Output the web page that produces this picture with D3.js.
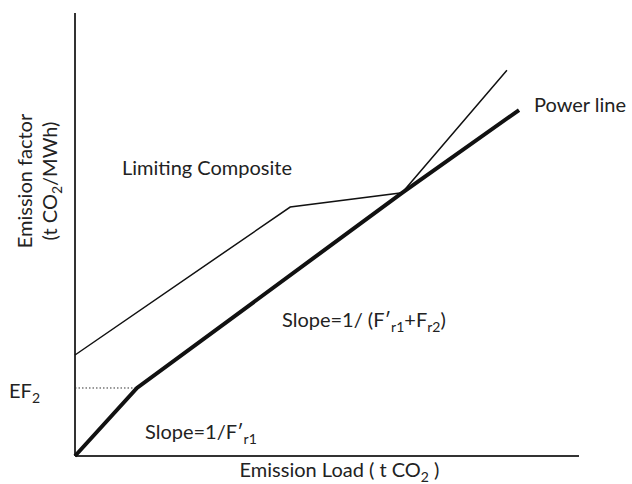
<!DOCTYPE html>
<html>
<head>
<meta charset="utf-8">
<script src="https://cdn.jsdelivr.net/npm/d3@7"></script>
<style>
  body { margin: 0; background: #fff; }
  svg text { font-family: Lato, "Open Sans", sans-serif; fill: #222; }
</style>
</head>
<body>
<div class="canvas"></div>
<script>
// schematic values (arbitrary units 0..100)
const powerLoad = [0, 12.3, 64.9, 88.1];
const powerFactor = [0, 15.35, 59.4, 78.1];
const compositeLoad = [0, 42.7, 64.9, 85.7];
const compositeFactor = [22.8, 56.2, 59.4, 87.1];
const ef2 = 15.35;
const ef2Load = 12.3;

const dims = { width: 632, height: 484 };
const margin = { left: 75, right: 53, top: 13, bottom: 28 };

const svg = d3.select('.canvas')
  .append('svg')
  .attr('width', dims.width)
  .attr('height', dims.height);

const x = d3.scaleLinear()
  .domain([0, 100])
  .range([margin.left, dims.width - margin.right]);

const y = d3.scaleLinear()
  .domain([0, 100])
  .range([dims.height - margin.bottom, margin.top]);

const line = d3.line()
  .x(d => x(d[0]))
  .y(d => y(d[1]));

// axes as plain lines, no ticks
svg.append('line')
  .attr('x1', x(0)).attr('x2', x(0))
  .attr('y1', y(0)).attr('y2', y(100))
  .attr('stroke', '#333').attr('stroke-width', 2);

svg.append('line')
  .attr('x1', x(0)).attr('x2', x(100))
  .attr('y1', y(0)).attr('y2', y(0))
  .attr('stroke', '#333').attr('stroke-width', 2);

// dotted guide at EF2
svg.append('line')
  .attr('x1', x(0)).attr('x2', x(ef2Load))
  .attr('y1', y(ef2)).attr('y2', y(ef2))
  .attr('stroke', '#333').attr('stroke-width', 1)
  .attr('stroke-dasharray', '1.5,2');

svg.append('path')
  .datum(compositeLoad.map((d, i) => [d, compositeFactor[i]]))
  .attr('d', line)
  .attr('fill', 'none')
  .attr('stroke', '#111')
  .attr('stroke-width', 1.5);

svg.append('path')
  .datum(powerLoad.map((d, i) => [d, powerFactor[i]]))
  .attr('d', line)
  .attr('fill', 'none')
  .attr('stroke', '#111')
  .attr('stroke-width', 4);

// labels
const fs = 20;
const sub = 14;

svg.append('text')
  .attr('x', 122).attr('y', 175)
  .style('font-size', fs + 'px')
  .text('Limiting Composite');

svg.append('text')
  .attr('x', 534).attr('y', 112)
  .style('font-size', fs + 'px')
  .text('Power line');

const s1 = svg.append('text')
  .attr('x', 145).attr('y', 439)
  .style('font-size', fs + 'px');
s1.append('tspan').text('Slope=1/F\u2032');
s1.append('tspan').attr('dy', 5).style('font-size', sub + 'px').text('r1');

const s2 = svg.append('text')
  .attr('x', 282).attr('y', 327)
  .style('font-size', fs + 'px');
s2.append('tspan').text('Slope=1/ (F\u2032');
s2.append('tspan').attr('dy', 5).style('font-size', sub + 'px').text('r1');
s2.append('tspan').attr('dy', -5).text('+F');
s2.append('tspan').attr('dy', 5).style('font-size', sub + 'px').text('r2');
s2.append('tspan').attr('dy', -5).text(')');

const ef = svg.append('text')
  .attr('x', 9).attr('y', 398)
  .style('font-size', fs + 'px');
ef.append('tspan').text('EF');
ef.append('tspan').attr('dy', 5).style('font-size', sub + 'px').text('2');

const xl = svg.append('text')
  .attr('x', (242 + 437) / 2).attr('y', 477)
  .attr('text-anchor', 'middle')
  .style('font-size', fs + 'px');
xl.append('tspan').text('Emission Load ( t CO');
xl.append('tspan').attr('dy', 5).style('font-size', sub + 'px').text('2');
xl.append('tspan').attr('dy', -5).text(' )');

const yl = svg.append('g')
  .attr('transform', 'translate(32,181) rotate(-90)');
yl.append('text')
  .attr('text-anchor', 'middle')
  .style('font-size', fs + 'px')
  .text('Emission factor');
const yl2 = yl.append('text')
  .attr('y', 25)
  .attr('text-anchor', 'middle')
  .style('font-size', fs + 'px');
yl2.append('tspan').text('(t CO');
yl2.append('tspan').attr('dy', 5).style('font-size', sub + 'px').text('2');
yl2.append('tspan').attr('dy', -5).text('/MWh)');
</script>
</body>
</html>
